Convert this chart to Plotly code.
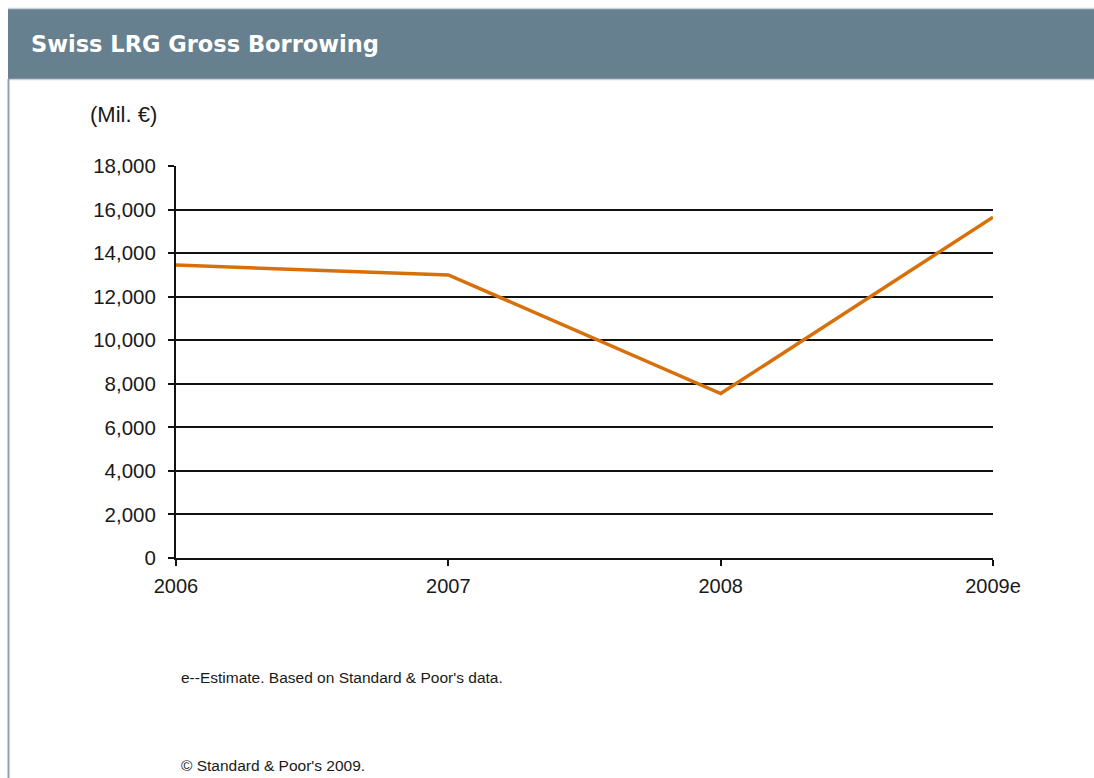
import plotly.graph_objects as go

W, H = 1094, 778

years = ["2006", "2007", "2008", "2009e"]
borrowing = [13450, 13000, 7550, 15650]
y_ticks = [0, 2000, 4000, 6000, 8000, 10000, 12000, 14000, 16000, 18000]

title_text = "Swiss LRG Gross Borrowing"
unit_text = "(Mil. €)"
note_text = "e--Estimate. Based on Standard & Poor's data."
copy_text = "© Standard & Poor's 2009."

def px(x):
    return x / W

def py(y):
    return 1 - y / H

fig = go.Figure()
fig.add_trace(go.Scatter(
    x=list(range(len(years))), y=borrowing, mode="lines",
    line=dict(color="#D8700A", width=3.5), hoverinfo="skip", showlegend=False,
))

fig.update_layout(
    template="none",
    width=W, height=H,
    margin=dict(l=0, r=0, t=0, b=0, pad=0, autoexpand=False),
    paper_bgcolor="white", plot_bgcolor="white",
    font=dict(family="Liberation Sans, Arial, sans-serif", color="#1a1a1a"),
    xaxis=dict(
        automargin=False,
        domain=[px(176), px(993)], range=[0, 3],
        tickvals=list(range(len(years))), ticktext=years,
        ticks="outside", ticklen=6, tickwidth=2, tickcolor="#111",
        showline=True, linecolor="#111", linewidth=2,
        showgrid=False, zeroline=False,
        tickfont=dict(size=20), ticklabelstandoff=3,
    ),
    yaxis=dict(
        automargin=False,
        domain=[py(558), py(166)], range=[0, 18000],
        tickvals=y_ticks, tickformat=",d",
        ticks="outside", ticklen=6, tickwidth=2, tickcolor="#111",
        showline=True, linecolor="#111", linewidth=2,
        showgrid=True, gridcolor="#111", gridwidth=1.6,
        zeroline=False,
        tickfont=dict(size=20.5), ticklabelstandoff=8,
    ),
    shapes=[
        dict(type="rect", xref="paper", yref="paper",
             x0=px(8), x1=1, y0=py(79), y1=py(9),
             fillcolor="#67808F", line=dict(width=0), layer="below"),
        dict(type="line", xref="paper", yref="paper",
             x0=px(8), x1=1, y0=py(8.5), y1=py(8.5),
             line=dict(color="#C9D3DA", width=1.5)),
        dict(type="line", xref="paper", yref="paper",
             x0=px(8), x1=1, y0=py(79.5), y1=py(79.5),
             line=dict(color="#C9D3DA", width=1.5)),
        dict(type="line", xref="paper", yref="paper",
             x0=px(8.5), x1=px(8.5), y0=py(79), y1=0,
             line=dict(color="#8DA2B0", width=2)),
    ],
    annotations=[
        dict(text=f"<b>{title_text}</b>", xref="paper", yref="paper",
             x=px(29), y=py(44), xanchor="left", yanchor="middle",
             showarrow=False,
             font=dict(family="DejaVu Sans, sans-serif", size=22.5, color="white")),
        dict(text=unit_text, xref="paper", yref="paper",
             x=px(88), y=py(114), xanchor="left", yanchor="middle",
             showarrow=False, font=dict(size=22)),
        dict(text=note_text, xref="paper", yref="paper",
             x=px(179), y=py(677), xanchor="left", yanchor="middle",
             showarrow=False, font=dict(size=15.5)),
        dict(text=copy_text, xref="paper", yref="paper",
             x=px(179), y=py(765), xanchor="left", yanchor="middle",
             showarrow=False, font=dict(size=15.5)),
    ],
)

fig.write_html("out.html")
